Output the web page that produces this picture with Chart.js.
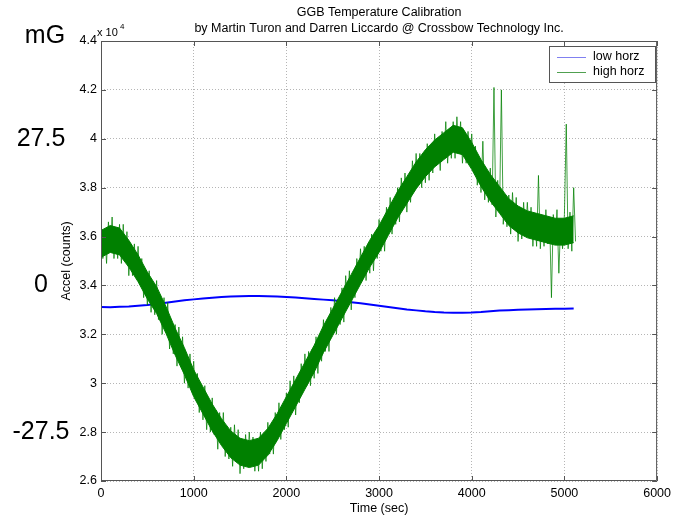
<!DOCTYPE html>
<html>
<head>
<meta charset="utf-8">
<script src="https://cdn.jsdelivr.net/npm/chart.js@4.4.1/dist/chart.umd.min.js"></script>
<style>
  html, body { margin: 0; padding: 0; background: #fff; }
  #wrap { width: 676px; height: 521px; }
</style>
</head>
<body>
<div id="wrap"><canvas id="calChart" width="676" height="521"></canvas></div>
<script>
// sample spacing (sec) of the recorded series
const lowStep = 100;
const bandStep = 100;
const highStep = 20;

// low horz accel, x 10^4 counts, one value per 100 s
const lowHorz = [
    3.312, 3.311, 3.313, 3.314, 3.317, 3.320, 3.324, 3.329, 3.334, 3.339,
    3.343, 3.347, 3.350, 3.353, 3.355, 3.356, 3.357, 3.357, 3.356, 3.355,
    3.353, 3.351, 3.348, 3.345, 3.342, 3.339, 3.335, 3.331, 3.327, 3.322,
    3.317, 3.312, 3.307, 3.302, 3.298, 3.294, 3.291, 3.289, 3.288, 3.288,
    3.289, 3.291, 3.294, 3.297, 3.299, 3.301, 3.302, 3.303, 3.304, 3.305,
    3.305, 3.306,
];

// dense core of the high horz trace (upper / lower edge), one value per 100 s
const highUpper = [
    3.625, 3.645, 3.635, 3.585, 3.525, 3.455, 3.395, 3.315, 3.225, 3.145,
    3.055, 2.985, 2.915, 2.855, 2.805, 2.775, 2.765, 2.775, 2.815, 2.875,
    2.945, 3.015, 3.085, 3.155, 3.235, 3.305, 3.375, 3.445, 3.515, 3.585,
    3.645, 3.715, 3.785, 3.845, 3.905, 3.955, 3.995, 4.025, 4.055, 4.045,
    3.985, 3.915, 3.855, 3.805, 3.755, 3.725, 3.705, 3.695, 3.685, 3.675,
    3.675, 3.685,
];
const highLower = [
    3.515, 3.535, 3.525, 3.475, 3.415, 3.345, 3.285, 3.205, 3.115, 3.035,
    2.945, 2.875, 2.805, 2.745, 2.695, 2.665, 2.655, 2.665, 2.705, 2.765,
    2.835, 2.905, 2.975, 3.045, 3.125, 3.195, 3.265, 3.335, 3.405, 3.475,
    3.535, 3.605, 3.675, 3.735, 3.795, 3.845, 3.885, 3.915, 3.945, 3.935,
    3.875, 3.805, 3.745, 3.695, 3.645, 3.615, 3.595, 3.585, 3.575, 3.565,
    3.565, 3.575,
];

// high horz accel, x 10^4 counts, one value per 20 s (noisy trace)
const highHorz = [
    3.65, 3.51, 3.63, 3.49, 3.66, 3.54, 3.68, 3.51, 3.62, 3.51,
    3.65, 3.49, 3.65, 3.50, 3.62, 3.44, 3.57, 3.44, 3.57, 3.44,
    3.56, 3.41, 3.51, 3.35, 3.46, 3.32, 3.46, 3.29, 3.41, 3.28,
    3.42, 3.26, 3.36, 3.20, 3.35, 3.21, 3.33, 3.14, 3.25, 3.12,
    3.24, 3.07, 3.23, 3.07, 3.19, 3.00, 3.12, 2.98, 3.12, 2.98,
    3.09, 2.94, 3.04, 2.88, 2.99, 2.85, 2.99, 2.81, 2.94, 2.80,
    2.94, 2.79, 2.89, 2.73, 2.88, 2.75, 2.88, 2.70, 2.81, 2.69,
    2.82, 2.66, 2.83, 2.68, 2.81, 2.63, 2.77, 2.65, 2.79, 2.67,
    2.80, 2.66, 2.78, 2.64, 2.77, 2.64, 2.80, 2.65, 2.79, 2.68,
    2.84, 2.71, 2.83, 2.71, 2.88, 2.77, 2.92, 2.77, 2.90, 2.81,
    2.96, 2.82, 3.01, 2.88, 3.03, 2.87, 3.02, 2.92, 3.08, 2.98,
    3.12, 2.99, 3.13, 2.99, 3.14, 3.02, 3.19, 3.04, 3.20, 3.09,
    3.26, 3.13, 3.26, 3.13, 3.31, 3.20, 3.35, 3.20, 3.33, 3.24,
    3.39, 3.25, 3.44, 3.31, 3.46, 3.30, 3.45, 3.35, 3.51, 3.41,
    3.55, 3.42, 3.56, 3.42, 3.57, 3.45, 3.61, 3.46, 3.62, 3.51,
    3.67, 3.54, 3.67, 3.54, 3.72, 3.61, 3.76, 3.61, 3.74, 3.65,
    3.80, 3.66, 3.84, 3.72, 3.86, 3.70, 3.85, 3.74, 3.91, 3.80,
    3.94, 3.81, 3.94, 3.80, 3.94, 3.82, 3.98, 3.83, 3.97, 3.86,
    4.02, 3.89, 4.00, 3.87, 4.03, 3.92, 4.07, 3.90, 4.03, 3.92,
    4.07, 3.92, 4.09, 3.95, 4.07, 3.90, 4.03, 3.90, 4.03, 3.90,
    4.02, 3.87, 3.97, 3.81, 3.92, 3.78, 3.99, 3.75, 3.87, 3.74,
    3.88, 3.73, 4.21, 3.68, 3.83, 3.70, 4.20, 3.65, 3.76, 3.64,
    3.77, 3.61, 3.78, 3.63, 3.76, 3.58, 3.72, 3.59, 3.74, 3.61,
    3.74, 3.60, 3.72, 3.56, 3.69, 3.56, 3.85, 3.55, 3.68, 3.56,
    3.71, 3.57, 3.68, 3.35, 3.69, 3.57, 3.71, 3.45, 3.66, 3.55,
    3.69, 4.06, 3.55, 3.70, 3.54, 3.80, 3.58,
];

const xTicks = [0, 1000, 2000, 3000, 4000, 5000, 6000];
const yTicks = [2.6, 2.8, 3, 3.2, 3.4, 3.6, 3.8, 4, 4.2, 4.4];

// second unit scale written on the left (mG) and the accel value it sits at
const mgLabels = ['27.5', '0', '-27.5'];
const mgAt = [4.0, 3.4, 2.8];

const seriesNames = ['low horz', 'high horz'];
const seriesColors = ['#0000ff', '#008000'];
const legendColors = ['#8080f0', '#50a050'];

const FONT = '"Liberation Sans", Arial, Helvetica, sans-serif';
const SMALL = 12.5;

function toPoints(values, step) {
    return values.map((v, i) => ({ x: i * step, y: v }));
}

const matlabFrame = {
    id: 'matlabFrame',
    afterDatasetsDraw(chart) {
        const { ctx, chartArea: a, scales } = chart;
        ctx.save();
        ctx.strokeStyle = '#555';
        ctx.lineWidth = 1;
        ctx.beginPath();
        ctx.rect(a.left + 0.5, a.top + 0.5, a.right - a.left - 1, a.bottom - a.top - 1);
        ctx.stroke();
        // inward tick marks on all four sides
        ctx.beginPath();
        xTicks.forEach((t) => {
            const px = Math.round(scales.x.getPixelForValue(t)) + 0.5;
            ctx.moveTo(px, a.bottom);
            ctx.lineTo(px, a.bottom - 5);
            ctx.moveTo(px, a.top);
            ctx.lineTo(px, a.top + 5);
        });
        yTicks.forEach((t) => {
            const py = Math.round(scales.y.getPixelForValue(t)) + 0.5;
            ctx.moveTo(a.left, py);
            ctx.lineTo(a.left + 5, py);
            ctx.moveTo(a.right, py);
            ctx.lineTo(a.right - 5, py);
        });
        ctx.stroke();
        ctx.restore();
    },
    afterDraw(chart) {
        const { ctx, chartArea: a, scales } = chart;
        const cx = (a.left + a.right) / 2;
        ctx.save();
        ctx.fillStyle = '#000';

        // title
        ctx.font = SMALL + 'px ' + FONT;
        ctx.textAlign = 'center';
        ctx.textBaseline = 'middle';
        ctx.fillText('GGB Temperature Calibration', cx, 13);
        ctx.fillText('by Martin Turon and Darren Liccardo @ Crossbow Technology Inc.', cx, 29);

        // axis titles
        ctx.fillText('Time (sec)', cx, 509);
        ctx.save();
        ctx.translate(67, (a.top + a.bottom) / 2);
        ctx.rotate(-Math.PI / 2);
        ctx.fillText('Accel (counts)', 0, 0);
        ctx.restore();

        // exponent
        ctx.textAlign = 'left';
        ctx.font = '11px ' + FONT;
        ctx.fillText('x 10', a.left - 4, a.top - 8);
        ctx.font = '8px ' + FONT;
        ctx.fillText('4', a.left + 19, a.top - 14);

        // mG scale
        ctx.font = '25px ' + FONT;
        ctx.textAlign = 'center';
        ctx.fillText('mG', 45, 36);
        mgLabels.forEach((lab, i) => {
            ctx.fillText(lab, 41, scales.y.getPixelForValue(mgAt[i]));
        });

        // legend box
        const lx = 549, ly = 46, lw = 106, lh = 36;
        ctx.fillStyle = '#fff';
        ctx.fillRect(lx, ly, lw, lh);
        ctx.strokeStyle = '#555';
        ctx.lineWidth = 1;
        ctx.strokeRect(lx + 0.5, ly + 0.5, lw, lh);
        ctx.font = SMALL + 'px ' + FONT;
        ctx.textAlign = 'left';
        seriesNames.forEach((name, i) => {
            const ry = ly + 11 + i * 15;
            ctx.strokeStyle = legendColors[i];
            ctx.beginPath();
            ctx.moveTo(lx + 8, ry + 0.5);
            ctx.lineTo(lx + 37, ry + 0.5);
            ctx.stroke();
            ctx.fillStyle = '#000';
            ctx.fillText(name, lx + 44, ry);
        });
        ctx.restore();
    },
};

const ctx = document.getElementById('calChart').getContext('2d');

new Chart(ctx, {
    type: 'line',
    data: {
        datasets: [
            {
                label: seriesNames[0],
                data: toPoints(lowHorz, lowStep),
                borderColor: seriesColors[0],
                borderWidth: 2,
                pointRadius: 0,
                tension: 0,
                fill: false,
                order: 4,
            },
            {
                label: 'high core lower',
                data: toPoints(highLower, bandStep),
                borderColor: seriesColors[1],
                borderWidth: 1,
                pointRadius: 0,
                tension: 0,
                fill: false,
                order: 3,
            },
            {
                label: 'high core upper',
                data: toPoints(highUpper, bandStep),
                borderColor: seriesColors[1],
                backgroundColor: seriesColors[1],
                borderWidth: 1,
                pointRadius: 0,
                tension: 0,
                fill: '-1',
                order: 2,
            },
            {
                label: seriesNames[1],
                data: toPoints(highHorz, highStep),
                borderColor: 'rgba(0, 128, 0, 0.75)',
                borderWidth: 1,
                pointRadius: 0,
                tension: 0,
                fill: false,
                order: 1,
            },
        ],
    },
    options: {
        responsive: false,
        animation: false,
        layout: { padding: { top: 41, right: 17, left: 0, bottom: 0 } },
        plugins: {
            legend: { display: false },
            tooltip: { enabled: false },
        },
        scales: {
            x: {
                type: 'linear',
                min: 0,
                max: 6000,
                afterFit: (s) => { s.height = 40; },
                afterBuildTicks: (s) => { s.ticks = xTicks.map((v) => ({ value: v })); },
                grid: { color: '#b5b5b5', drawTicks: false },
                border: { display: false, dash: [1, 2] },
                ticks: {
                    color: '#000',
                    padding: 5,
                    maxRotation: 0,
                    font: { family: FONT, size: SMALL },
                    callback: (v) => String(v),
                },
            },
            y: {
                min: 2.6,
                max: 4.4,
                afterFit: (s) => { s.width = 101; },
                afterBuildTicks: (s) => { s.ticks = yTicks.map((v) => ({ value: v })); },
                grid: { color: '#b5b5b5', drawTicks: false },
                border: { display: false, dash: [1, 2] },
                ticks: {
                    color: '#000',
                    padding: 4,
                    font: { family: FONT, size: SMALL },
                    callback: (v) => String(Number(v.toFixed(1))),
                },
            },
        },
    },
    plugins: [matlabFrame],
});
</script>
</body>
</html>
